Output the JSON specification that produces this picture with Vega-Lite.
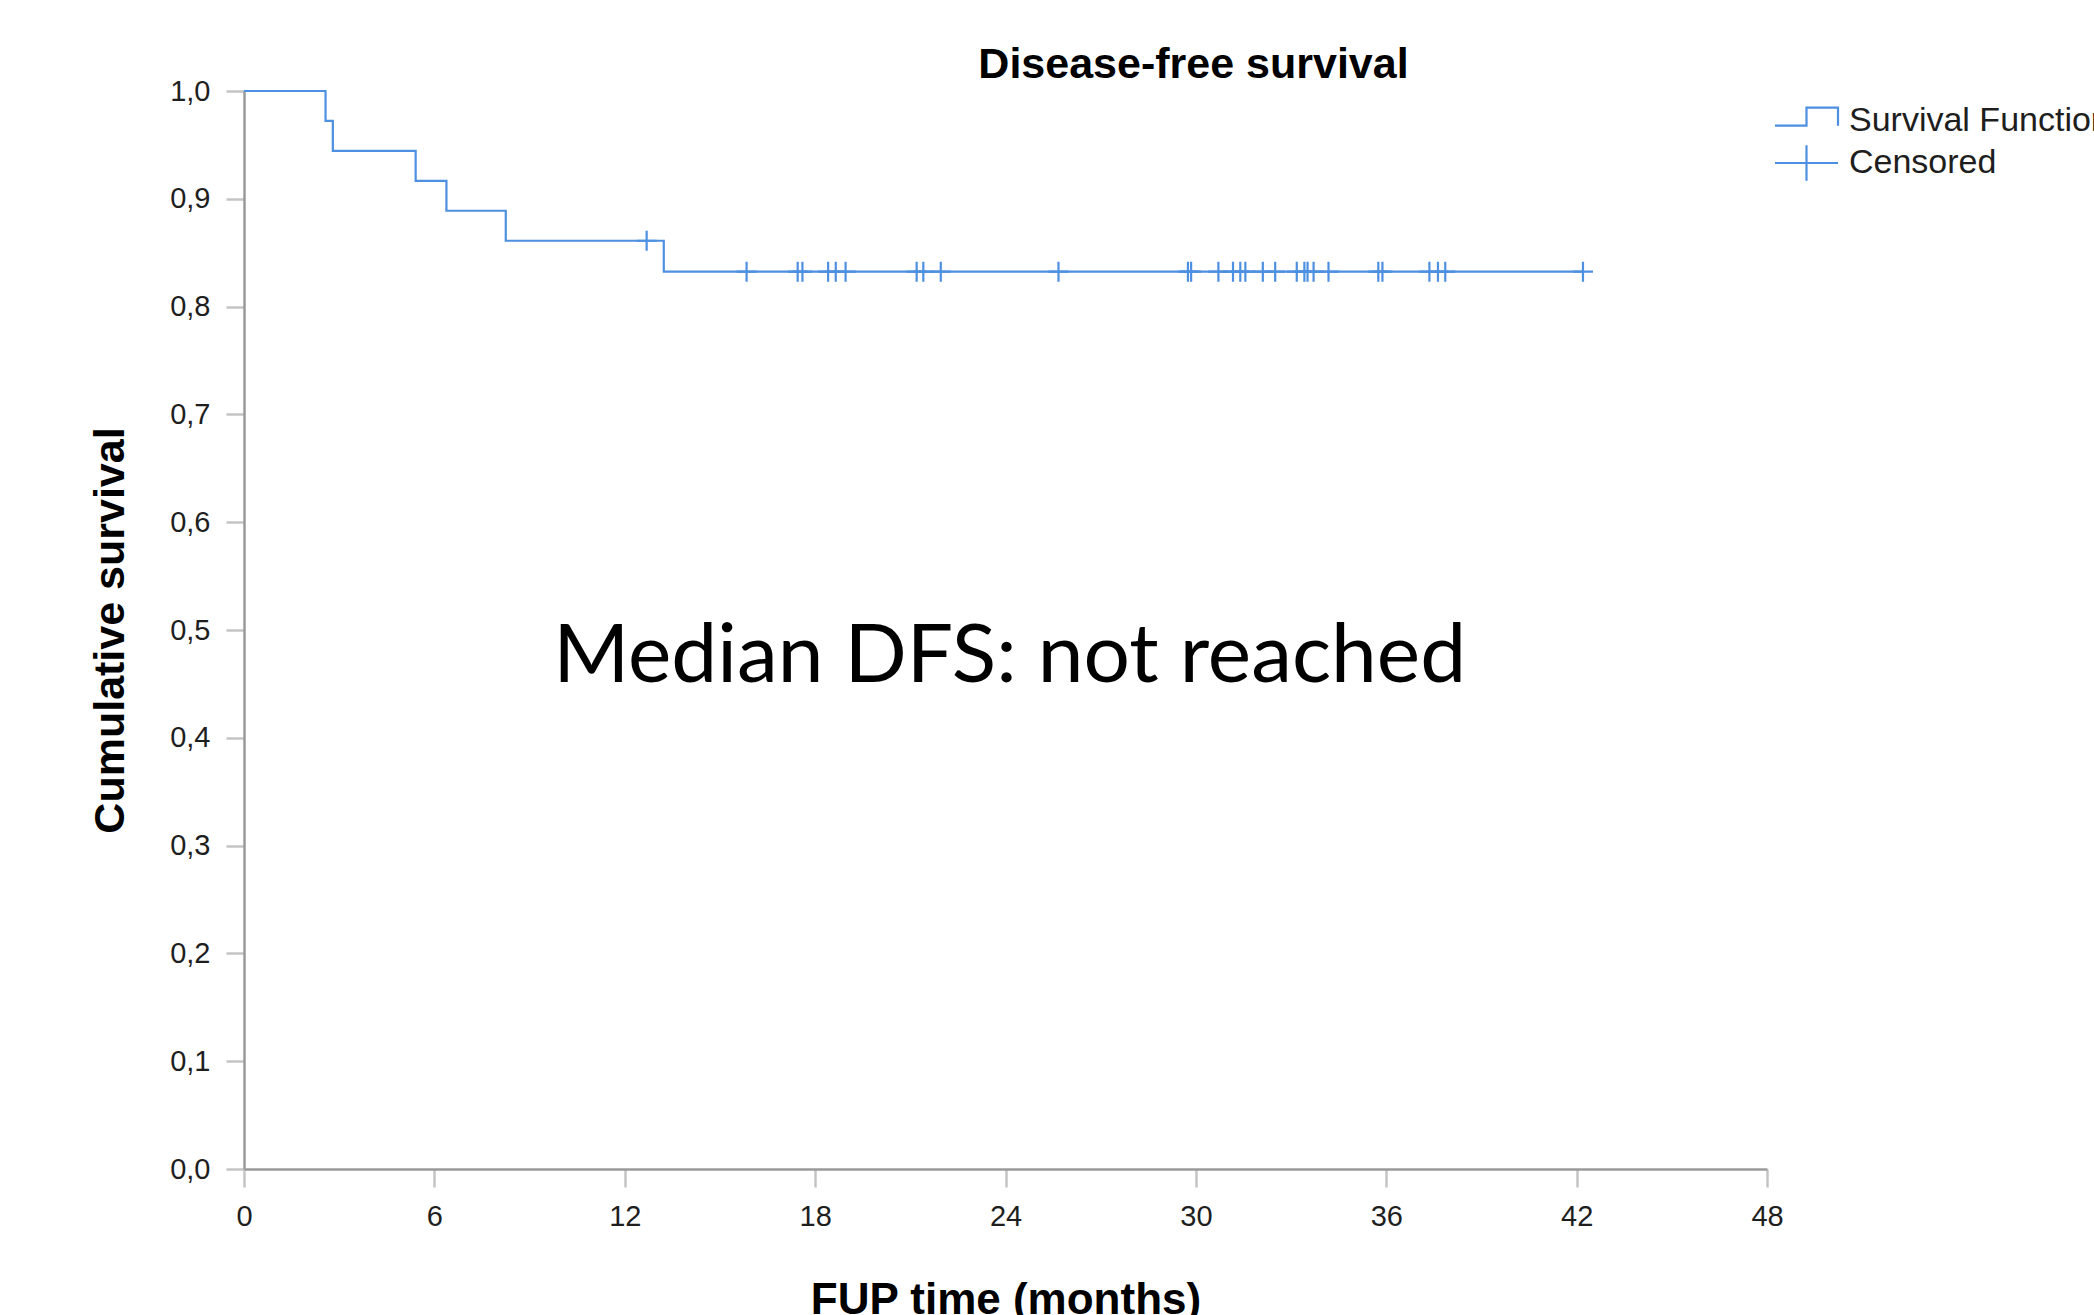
{
  "$schema": "https://vega.github.io/schema/vega-lite/v6.json",
  "autosize": {"type": "none"},
  "padding": {"left": 244, "top": 91, "right": 327, "bottom": 146},
  "width": 1523,
  "height": 1078,
  "background": "white",
  "title": {
    "text": "Disease-free survival",
    "font": "Liberation Sans",
    "fontSize": 43,
    "fontWeight": "bold",
    "color": "#000000",
    "anchor": "middle",
    "frame": "group",
    "dx": 188,
    "dy": 24,
    "offset": 14
  },
  "datasets": {
    "curve": [
      {"time": 0, "survival": 1.0},
      {"time": 2.57, "survival": 0.9722},
      {"time": 2.8, "survival": 0.9444},
      {"time": 5.41, "survival": 0.9167},
      {"time": 6.38, "survival": 0.8889},
      {"time": 8.25, "survival": 0.8611},
      {"time": 13.23, "survival": 0.8324},
      {"time": 42.2, "survival": 0.8324}
    ],
    "censored": [
      {"time": 12.69, "survival": 0.8611},
      {"time": 15.84, "survival": 0.8324},
      {"time": 17.45, "survival": 0.8324},
      {"time": 17.6, "survival": 0.8324},
      {"time": 18.41, "survival": 0.8324},
      {"time": 18.65, "survival": 0.8324},
      {"time": 18.96, "survival": 0.8324},
      {"time": 21.2, "survival": 0.8324},
      {"time": 21.41, "survival": 0.8324},
      {"time": 21.96, "survival": 0.8324},
      {"time": 25.67, "survival": 0.8324},
      {"time": 29.75, "survival": 0.8324},
      {"time": 29.85, "survival": 0.8324},
      {"time": 30.71, "survival": 0.8324},
      {"time": 31.17, "survival": 0.8324},
      {"time": 31.4, "survival": 0.8324},
      {"time": 31.56, "survival": 0.8324},
      {"time": 32.11, "survival": 0.8324},
      {"time": 32.5, "survival": 0.8324},
      {"time": 33.18, "survival": 0.8324},
      {"time": 33.42, "survival": 0.8324},
      {"time": 33.52, "survival": 0.8324},
      {"time": 33.71, "survival": 0.8324},
      {"time": 34.18, "survival": 0.8324},
      {"time": 35.75, "survival": 0.8324},
      {"time": 35.88, "survival": 0.8324},
      {"time": 37.36, "survival": 0.8324},
      {"time": 37.63, "survival": 0.8324},
      {"time": 37.86, "survival": 0.8324},
      {"time": 42.2, "survival": 0.8324}
    ],
    "legendItems": [
      {"series": "Survival Function", "time": 0, "survival": 0},
      {"series": "Censored", "time": 0, "survival": 0}
    ],
    "note": [
      {"label": "Median DFS: not reached", "time": 24.13, "survival": 0.452}
    ]
  },
  "encoding": {
    "x": {
      "field": "time",
      "type": "quantitative",
      "scale": {"domain": [0, 48], "nice": false, "zero": false},
      "axis": {
        "title": "FUP time (months)",
        "values": [0, 6, 12, 18, 24, 30, 36, 42, 48],
        "grid": false,
        "domainColor": "#9a9a9a",
        "domainWidth": 2.5,
        "tickColor": "#c4c4c4",
        "tickWidth": 2.5,
        "tickSize": 18,
        "labelFont": "Liberation Sans",
        "labelFontSize": 29,
        "labelColor": "#1e1e1e",
        "labelPadding": 15,
        "labelFlush": false,
        "titleFont": "Liberation Sans",
        "titleFontSize": 44,
        "titleFontWeight": "bold",
        "titleColor": "#000000",
        "titleBaseline": "alphabetic",
        "titleX": 761.5,
        "titleY": 144
      }
    },
    "y": {
      "field": "survival",
      "type": "quantitative",
      "scale": {"domain": [0, 1], "nice": false},
      "axis": {
        "title": "Cumulative survival",
        "values": [0, 0.1, 0.2, 0.3, 0.4, 0.5, 0.6, 0.7, 0.8, 0.9, 1.0],
        "labelExpr": "replace(format(datum.value, '.1f'), '.', ',')",
        "grid": false,
        "domainColor": "#9a9a9a",
        "domainWidth": 2.5,
        "tickColor": "#c4c4c4",
        "tickWidth": 2.5,
        "tickSize": 18,
        "labelFont": "Liberation Sans",
        "labelFontSize": 29,
        "labelColor": "#1e1e1e",
        "labelPadding": 16,
        "labelFlush": false,
        "titleFont": "Liberation Sans",
        "titleFontSize": 43,
        "titleFontWeight": "bold",
        "titleColor": "#000000",
        "titleAngle": -90,
        "titleBaseline": "alphabetic",
        "titleAlign": "center",
        "titleX": -121,
        "titleY": 539
      }
    }
  },
  "layer": [
    {
      "data": {"name": "curve"},
      "mark": {"type": "line", "interpolate": "step-after", "stroke": "#4d8fe0", "strokeWidth": 2.2}
    },
    {
      "data": {"name": "censored"},
      "mark": {
        "type": "point",
        "shape": "M-1,0H1M0,-1V1",
        "size": 400,
        "filled": false,
        "stroke": "#4d8fe0",
        "strokeWidth": 2.2,
        "opacity": 1
      }
    },
    {
      "data": {"name": "legendItems"},
      "transform": [{"filter": "datum.time < 0"}],
      "mark": {"type": "point", "filled": false, "stroke": "#4d8fe0", "strokeWidth": 2.2, "opacity": 1},
      "encoding": {
        "shape": {
          "field": "series",
          "type": "nominal",
          "scale": {
            "domain": ["Survival Function", "Censored"],
            "range": ["M-1,0.31H1.1V-0.89H3.2V0.31", "M-1,0H3.2M1.1,-1.18V1.18"]
          },
          "legend": {
            "title": null,
            "orient": "none",
            "legendX": 1529,
            "legendY": 13,
            "symbolSize": 900,
            "symbolStrokeColor": "#4d8fe0",
            "symbolFillColor": "transparent",
            "symbolStrokeWidth": 2.2,
            "symbolOpacity": 1,
            "labelFont": "Liberation Sans",
            "labelFontSize": 34,
            "labelColor": "#1e1e1e",
            "labelOffset": 42,
            "labelLimit": 1000,
            "rowPadding": 2
          }
        }
      }
    },
    {
      "data": {"name": "note"},
      "mark": {
        "type": "text",
        "font": "Lato",
        "fontSize": 82,
        "color": "#000000",
        "align": "center",
        "baseline": "alphabetic"
      },
      "encoding": {
        "text": {"field": "label"}
      }
    }
  ],
  "config": {
    "view": {"stroke": null}
  }
}
